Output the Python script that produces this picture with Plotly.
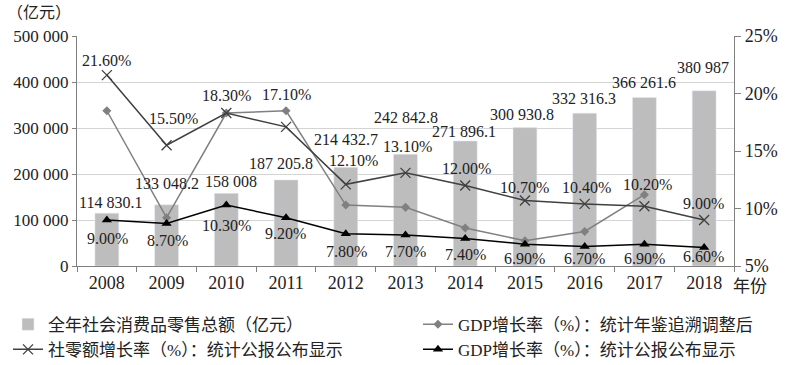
import plotly.graph_objects as go

years = ["2008", "2009", "2010", "2011", "2012", "2013", "2014", "2015", "2016", "2017", "2018"]
retail_total = [114830.1, 133048.2, 158008, 187205.8, 214432.7, 242842.8, 271896.1, 300930.8, 332316.3, 366261.6, 380987]
retail_growth = [21.6, 15.5, 18.3, 17.1, 12.1, 13.1, 12.0, 10.7, 10.4, 10.2, 9.0]
gdp_adjusted = [18.5, 9.2, 18.3, 18.5, 10.3, 10.1, 8.3, 7.2, 8.0, 11.2]
gdp_published = [9.0, 8.7, 10.3, 9.2, 7.8, 7.7, 7.4, 6.9, 6.7, 6.9, 6.6]

names = ["全年社会消费品零售总额（亿元）", "GDP增长率（%）：统计年鉴追溯调整后",
         "社零额增长率（%）：统计公报公布显示", "GDP增长率（%）：统计公报公布显示"]

# label pixel offsets (layout only): (xshift, yshift)
bar_lbl_off = [(4, 11), (0, 21), (5, 12), (-5, 16), (0, 28), (0, 37), (-1, 9), (-3, 13), (-1, 15), (0, 15), (-1, 23)]
rg_lbl_off = [(0, 15), (7, 27), (0, 18), (0, 32), (8, 24), (2, 26), (1, 17), (0, 13), (2, 16), (3, 22), (-1, 17)]
gp_lbl_off = [(1, -18), (1, -17), (0, -20), (-1, -16), (1, -18), (0, -17), (0, -16), (0, -14), (0, -12), (0, -14), (-1, -9)]

FONT = "Liberation Serif, Noto Sans CJK SC, serif"
TXT = "#222222"

fig = go.Figure()
fig.add_trace(go.Bar(x=years, y=retail_total, name=names[0], marker_color="#bdbdbd",
                     width=0.4, yaxis="y", legend="legend", legendgroup="a"))
fig.add_trace(go.Scatter(x=years[:len(gdp_adjusted)], y=gdp_adjusted, name=names[1], yaxis="y2",
                         mode="lines+markers", line=dict(color="#808080", width=1.5),
                         marker=dict(symbol="diamond", size=7, color="#808080"),
                         legend="legend2", legendgroup="b"))
fig.add_trace(go.Scatter(x=years, y=retail_growth, name=names[2], yaxis="y2",
                         mode="lines+markers", line=dict(color="#404040", width=1.5),
                         marker=dict(symbol="x-thin-open", size=10, line=dict(color="#404040", width=1.3)),
                         legend="legend", legendgroup="c"))
fig.add_trace(go.Scatter(x=years, y=gdp_published, name=names[3], yaxis="y2",
                         mode="lines+markers", line=dict(color="#000000", width=1.5),
                         marker=dict(symbol="triangle-up", size=9, color="#000000"),
                         legend="legend2", legendgroup="d"))

def fmt_num(v):
    s = "{:,.1f}".format(v) if v % 1 else "{:,.0f}".format(v)
    return s.replace(",", " ")

anns = []
for i, v in enumerate(retail_total):
    dx, dy = bar_lbl_off[i]
    anns.append(dict(x=i, y=v, xref="x", yref="y", text=fmt_num(v), showarrow=False,
                     xanchor="center", yanchor="middle", xshift=dx, yshift=dy,
                     font=dict(size=16, color=TXT, family=FONT)))
for i, v in enumerate(retail_growth):
    dx, dy = rg_lbl_off[i]
    anns.append(dict(x=i, y=v, xref="x", yref="y2", text="{:.2f}%".format(v), showarrow=False,
                     xanchor="center", yanchor="middle", xshift=dx, yshift=dy,
                     font=dict(size=16, color=TXT, family=FONT)))
for i, v in enumerate(gdp_published):
    dx, dy = gp_lbl_off[i]
    anns.append(dict(x=i, y=v, xref="x", yref="y2", text="{:.2f}%".format(v), showarrow=False,
                     xanchor="center", yanchor="middle", xshift=dx, yshift=dy,
                     font=dict(size=16, color=TXT, family=FONT)))
anns.append(dict(x=-0.11, y=1.1, xref="paper", yref="paper", text="（亿元）", showarrow=False,
                 xanchor="left", yanchor="middle", font=dict(size=16, color=TXT, family=FONT)))
anns.append(dict(x=0.995, y=-0.087, xref="paper", yref="paper", text="年份", showarrow=False,
                 xanchor="left", yanchor="middle", font=dict(size=17, color=TXT, family=FONT)))

leg_common = dict(orientation="v", yanchor="top", y=-0.177, traceorder="normal",
                  tracegroupgap=6, font=dict(size=17, family=FONT, color=TXT),
                  bgcolor="rgba(0,0,0,0)", itemwidth=30)

fig.update_layout(
    width=785, height=365,
    margin=dict(l=77, r=51, t=36, b=99, autoexpand=False),
    paper_bgcolor="white", plot_bgcolor="white",
    separators=". ",
    font=dict(family=FONT, size=17, color=TXT),
    showlegend=True,
    legend=dict(x=-0.105, xanchor="left", **leg_common),
    legend2=dict(x=0.519, xanchor="left", **leg_common),
    xaxis=dict(type="category", range=[-0.5, 10.5], showgrid=False, showline=True,
               linecolor="#808080", linewidth=1,
               ticks="outside", tickson="boundaries", ticklen=5, tickcolor="#808080",
               tickangle=0, automargin=False,
               tickfont=dict(size=18, family=FONT, color=TXT)),
    yaxis=dict(range=[0, 500000], dtick=100000, tickformat=",d", showgrid=True, gridcolor="#d4d4d4",
               gridwidth=1, showline=True, linecolor="#808080", linewidth=1.2, ticks="outside",
               ticklen=4, tickcolor="#808080", zeroline=False, automargin=False,
               tickfont=dict(size=17, family=FONT, color=TXT)),
    yaxis2=dict(range=[5, 25], dtick=5, ticksuffix="%", overlaying="y", side="right",
                showgrid=False, showline=True, linecolor="#808080", linewidth=1.2,
                ticks="outside", ticklen=6, tickcolor="#808080", zeroline=False, automargin=False,
                tickfont=dict(size=18, family=FONT, color=TXT)),
    annotations=anns,
)

fig.write_html("out.html", config={"displayModeBar": False},
               post_script="document.body.style.margin='0px';")
